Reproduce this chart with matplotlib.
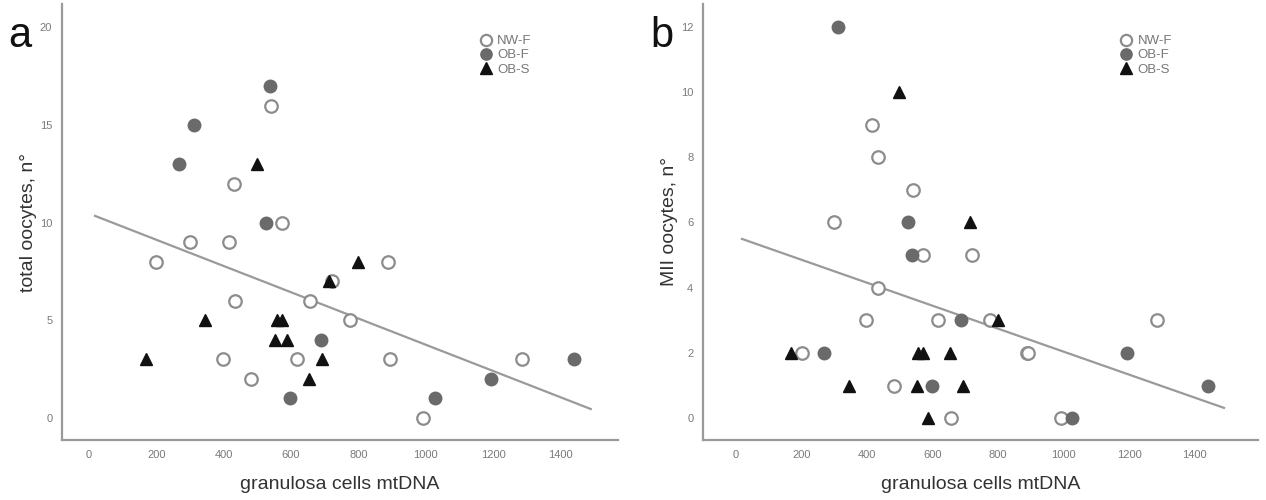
import matplotlib
matplotlib.use("Agg")
import matplotlib.pyplot as plt
import numpy as np

# ---- data ----
nwf_x = [200, 300, 416, 432, 433, 540, 572, 397, 481, 617, 657, 722, 775, 889, 893, 992, 1286]
nwf_total = [8, 9, 9, 12, 6, 16, 10, 3, 2, 3, 6, 7, 5, 8, 3, 0, 3]
nwf_mii = [2, 6, 9, 8, 4, 7, 5, 3, 1, 3, 0, 5, 3, 2, 2, 0, 3]

obf_x = [538, 312, 268, 526, 688, 598, 1027, 1195, 1440]
obf_total = [17, 15, 13, 10, 4, 1, 1, 2, 3]
obf_mii = [5, 12, 2, 6, 3, 1, 0, 2, 1]

obs_x = [168, 346, 499, 557, 572, 552, 587, 693, 654, 714, 800]
obs_total = [3, 5, 13, 5, 5, 4, 4, 3, 2, 7, 8]
obs_mii = [2, 1, 10, 2, 2, 1, 0, 1, 2, 6, 3]

# fitted regression lines (intercept, slope) and x-span of the drawn line
fit_total = (10.47, -0.00672)
fit_mii = (5.56, -0.00352)
fit_span = [18, 1490]

groups = ["NW-F", "OB-F", "OB-S"]
x_ticks = [0, 200, 400, 600, 800, 1000, 1200, 1400]
y_ticks_total = [0, 5, 10, 15, 20]
y_ticks_mii = [0, 2, 4, 6, 8, 10, 12]

plt.rcParams['font.family'] = ['Liberation Sans', 'DejaVu Sans']

W, H = 1266, 500
fig = plt.figure(figsize=(W / 100, H / 100), dpi=100)

spine_col = "#9a9a9a"
tick_col = "#7a7a7a"
open_col = "#8c8c8c"
gray_col = "#6a6a6a"
tri_col = "#111111"
line_col = "#9a9a9a"
ms = 9.0


def panel(ax, y_nwf, y_obf, y_obs, fit, yticks, ylim, xlim, ylabel):
    x = np.array(fit_span, dtype=float)
    ax.plot(x, fit[0] + fit[1] * x, color=line_col, lw=1.6, zorder=1)
    ax.plot(nwf_x, y_nwf, linestyle="none", marker="o", ms=ms, mfc="white",
            mec=open_col, mew=1.6, zorder=3, label=groups[0])
    ax.plot(obf_x, y_obf, linestyle="none", marker="o", ms=ms, mfc=gray_col,
            mec=gray_col, mew=1.0, zorder=3, label=groups[1])
    ax.plot(obs_x, y_obs, linestyle="none", marker="^", ms=ms, mfc=tri_col,
            mec=tri_col, mew=1.0, zorder=4, label=groups[2])
    ax.set_xlim(*xlim)
    ax.set_ylim(*ylim)
    ax.set_xticks(x_ticks)
    ax.set_yticks(yticks)
    ax.tick_params(length=0, labelsize=8, colors=tick_col, pad=7)
    for s in ["top", "right"]:
        ax.spines[s].set_visible(False)
    for s in ["left", "bottom"]:
        ax.spines[s].set_color(spine_col)
        ax.spines[s].set_linewidth(1.6)
    ax.set_xlabel("granulosa cells mtDNA", fontsize=14, color="#333333", labelpad=12)
    ax.set_ylabel(ylabel, fontsize=14, color="#333333", labelpad=2)
    leg = ax.legend(loc="upper left", bbox_to_anchor=(0.751, 0.929), frameon=False,
                    fontsize=9.5, handlelength=1.0, handletextpad=0.35,
                    labelspacing=0.15, borderpad=0, borderaxespad=0,
                    markerscale=0.9)
    for t in leg.get_texts():
        t.set_color("#777777")


ax1 = fig.add_axes([62 / W, 60 / H, 556 / W, 436 / H])
panel(ax1, nwf_total, obf_total, obs_total, fit_total, y_ticks_total,
      (-1.13, 21.2), (-80, 1571), "total oocytes, n°")

ax2 = fig.add_axes([703 / W, 60 / H, 555 / W, 436 / H])
panel(ax2, nwf_mii, obf_mii, obs_mii, fit_mii, y_ticks_mii,
      (-0.67, 12.7), (-101, 1594), "MII oocytes, n°")

fig.text(8 / W, 1 - 47 / H, "a", fontsize=30, color="#111111", ha="left", va="baseline")
fig.text(650 / W, 1 - 47 / H, "b", fontsize=30, color="#111111", ha="left", va="baseline")

fig.savefig("out.png", dpi=100)
